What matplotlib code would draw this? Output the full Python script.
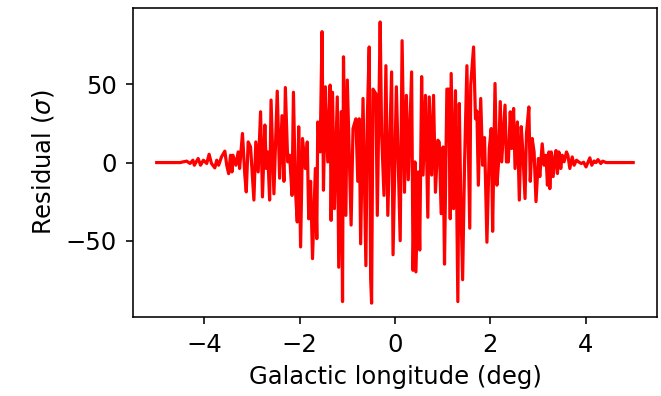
"""Residual profile along Galactic longitude."""

import matplotlib

matplotlib.use("Agg")

import matplotlib.pyplot as plt

# vertices (longitude in deg, residual in sigma)
longitude = [
    -5.00, -4.50, -4.47, -4.37, -4.30, -4.24, -4.21, -4.13, -4.08, -4.02,
    -3.95, -3.90, -3.85, -3.78, -3.74, -3.70, -3.64, -3.57, -3.53, -3.49,
    -3.45, -3.42, -3.40, -3.34, -3.29, -3.26, -3.20, -3.15, -3.12, -3.08,
    -3.03, -2.96, -2.92, -2.87, -2.82, -2.78, -2.73, -2.70, -2.67, -2.63,
    -2.60, -2.54, -2.47, -2.42, -2.37, -2.33, -2.30, -2.25, -2.21, -2.16,
    -2.13, -2.09, -2.05, -2.02, -1.98, -1.94, -1.88, -1.84, -1.81, -1.77,
    -1.73, -1.67, -1.64, -1.62, -1.57, -1.53, -1.50, -1.46, -1.41, -1.36,
    -1.34, -1.31, -1.27, -1.21, -1.18, -1.13, -1.10, -1.08, -1.03, -1.00,
    -0.92, -0.88, -0.82, -0.78, -0.75, -0.72, -0.67, -0.61, -0.58, -0.54,
    -0.51, -0.49, -0.46, -0.40, -0.37, -0.31, -0.28, -0.23, -0.19, -0.15,
    -0.11, -0.07, -0.04, 0.03, 0.07, 0.11, 0.15, 0.20, 0.24, 0.28,
    0.35, 0.38, 0.42, 0.44, 0.49, 0.52, 0.56, 0.59, 0.64, 0.69,
    0.72, 0.77, 0.81, 0.85, 0.90, 0.93, 0.97, 1.01, 1.04, 1.09,
    1.13, 1.16, 1.18, 1.23, 1.27, 1.32, 1.35, 1.38, 1.42, 1.46,
    1.51, 1.57, 1.59, 1.65, 1.69, 1.72, 1.75, 1.80, 1.84, 1.88,
    1.91, 1.93, 1.98, 2.02, 2.05, 2.10, 2.14, 2.17, 2.21, 2.24,
    2.31, 2.34, 2.38, 2.42, 2.45, 2.49, 2.52, 2.57, 2.61, 2.65,
    2.68, 2.73, 2.76, 2.81, 2.84, 2.88, 2.92, 2.96, 3.01, 3.04,
    3.09, 3.13, 3.17, 3.20, 3.23, 3.25, 3.28, 3.32, 3.36, 3.38,
    3.41, 3.44, 3.48, 3.51, 3.55, 3.60, 3.63, 3.67, 3.72, 3.76,
    3.81, 3.86, 3.91, 3.96, 4.01, 4.09, 4.13, 4.18, 4.22, 4.26,
    4.32, 4.36, 4.43, 5.00,
]
residual = [
    0, 0, 0.3, 0.9, -0.6, 1.5, -1.7, 2.6, -1.7, 1.5,
    -0.6, 5.3, -0.6, -3.4, 1.5, -1.7, 3.6, 7.3, -1.7, -7.1,
    4.7, -6, 4.7, -1.7, 6.8, -3.8, 18.6, -8.1, -18.8, 13.2,
    10, -24, 13.2, -6, 32.5, -22, 24, -3.8, 6.8, -24,
    40, -20, 45.7, -10, 30, -12, 48, 0.4, 4.7, -21,
    45, -16.7, -38, 22.9, -54, 15.4, -3.8, 13.2, -36, -12,
    -61.5, -3.8, -48.7, 26, 6.8, 83.8, -17.7, 48.5, 0.4, 49.6,
    -37, 45, -29.5, 42, -67, 32.5, -89, 67.7, -33.8, 52.8,
    -40, 21.8, 28, -12, 28, -52, 41, -66, 28, 74,
    -74, -90, 47, 44, -33.8, 90, 18.6, -21, 62, -33.8,
    13.2, 58, -59, 48.5, 0.4, -50, 78, -19, 43, -11,
    58, -69, 0.4, -70, -6, -56, 55, -8, 43, -35,
    42, -8, 43, -19, 14.3, 13, -32.7, 10, -65, 47,
    47, -36, 57, -29.5, 46, -89, 37.8, -21, -75, -1.7,
    62, -42, 49.6, 74, 28, 33, -14.5, 41, -1.7, 16,
    -23, -51, 9, 21.8, -44, 50.6, -14.5, -2, 39, 0.4,
    36.8, 0.4, 0.4, 32.5, 9, 34.6, -3.8, 26, -24, 23,
    9, -23, 18.6, 35.6, -12, 15.4, 6.8, -25, 2.6, -9,
    12, -1.7, 4.7, -14.5, 6.8, -16.7, 6.8, -9, 4.7, 7.7,
    -7, 6.8, -3.8, 4.7, 0.5, 6.8, 4.5, -3.8, 3.6, -1.7,
    1.5, 0.3, -0.6, 0.2, -2.8, 3, -1.7, 1.0, 0, 1.9,
    -0.6, 0.9, 0, 0,
]

plt.rcParams["font.size"] = 17.5
plt.rcParams["axes.linewidth"] = 1.15

fig = plt.figure(figsize=(6.61, 3.96), dpi=100)
ax = fig.add_axes([0.201, 0.199, 0.793, 0.781])
ax.plot(longitude, residual, color="red", lw=2.3)
ax.tick_params(length=5, width=1.15, pad=6.5)
ax.set_xticks([-4, -2, 0, 2, 4])
ax.set_yticks([-50, 0, 50])
ax.set_xlabel("Galactic longitude (deg)", labelpad=5.5)
ax.set_ylabel(r"Residual ($\sigma$)", labelpad=7)

fig.savefig("out.png", dpi=100)
plt.close(fig)
